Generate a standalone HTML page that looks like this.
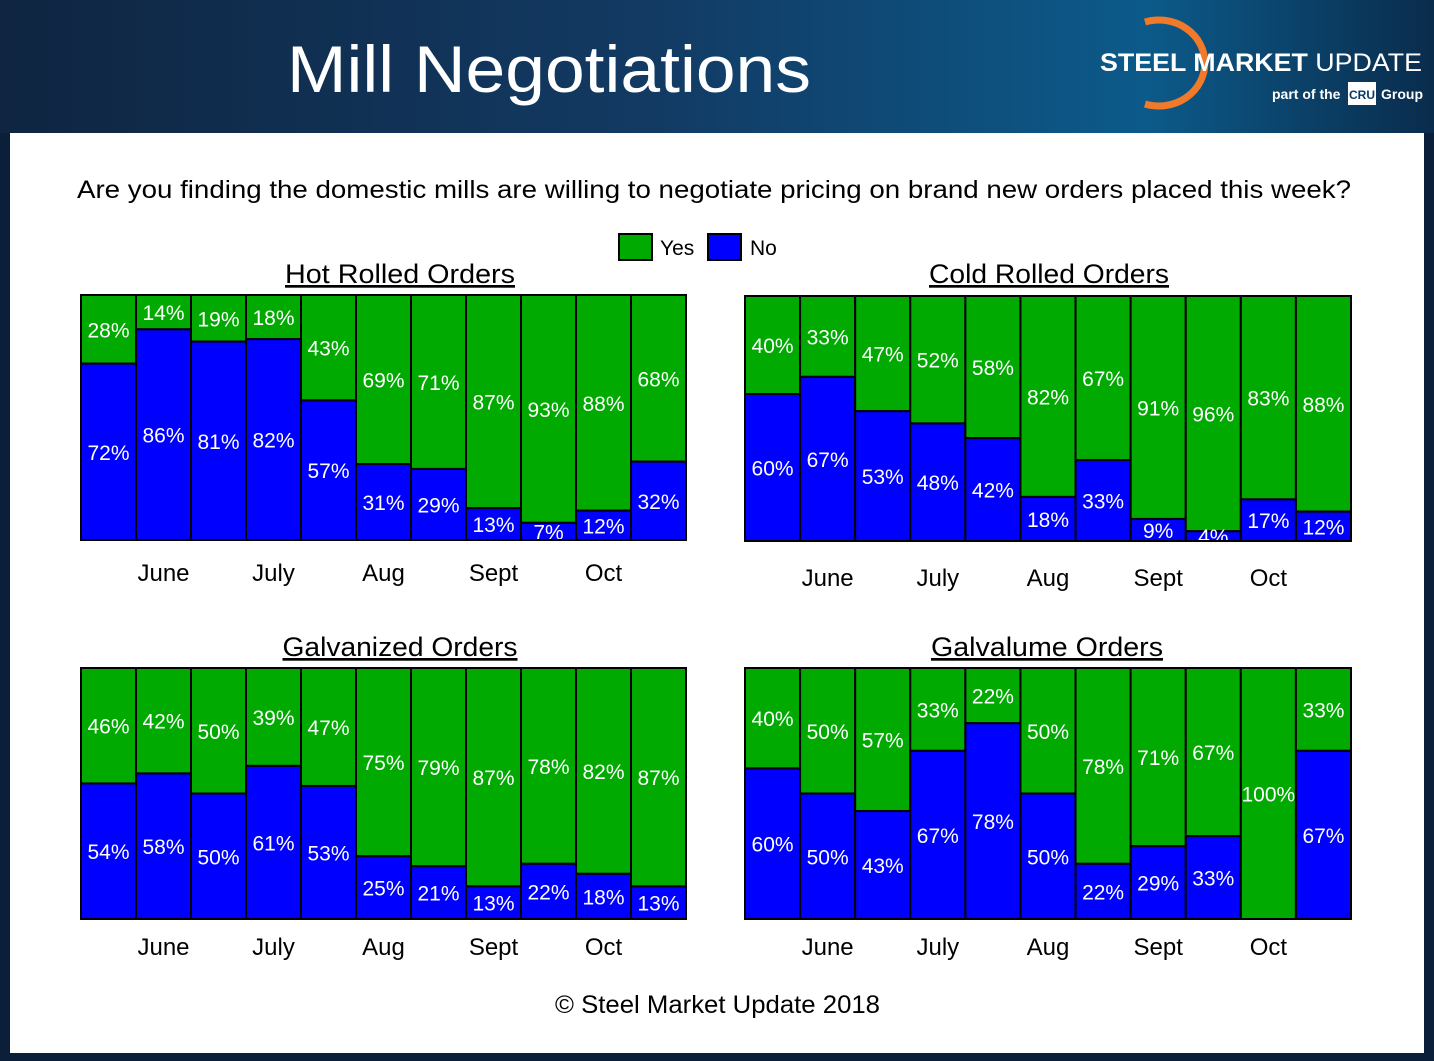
<!DOCTYPE html>
<html><head><meta charset="utf-8"><style>
body{margin:0;width:1434px;height:1061px;overflow:hidden;background:#0b1f3a;font-family:"Liberation Sans",sans-serif}
#hdr{position:absolute;left:0;top:0;width:1434px;height:133px;background:linear-gradient(90deg,#0f2541 0%,#123a63 45%,#0c5a8a 80%,#0a2c4c 100%)}
#panel{position:absolute;left:10px;top:133px;width:1414px;height:920px;background:#fff}
svg{position:absolute;left:0;top:0}
</style></head><body>
<div id="hdr"></div>
<div id="panel"></div>
<svg id="s" width="1434" height="1061">
<text x="287" y="92" font-size="66" fill="#fff" textLength="524" lengthAdjust="spacingAndGlyphs">Mill Negotiations</text>
<g>
<path d="M1145,22 A46,43 0 1,1 1145,104" fill="none" stroke="#f07a2a" stroke-width="7"/>
<text x="1100" y="71" font-size="25" font-weight="bold" fill="#fff" textLength="322" lengthAdjust="spacingAndGlyphs">STEEL MARKET <tspan font-weight="normal">UPDATE</tspan></text>
<text x="1272" y="99" font-size="14" font-weight="bold" fill="#fff">part of the</text>
<rect x="1348" y="82" width="28" height="23" fill="#fff"/>
<text x="1362" y="99" font-size="12" font-weight="bold" fill="#0c3a63" text-anchor="middle">CRU</text>
<text x="1381" y="99" font-size="14" font-weight="bold" fill="#fff">Group</text>
</g>
<text x="77" y="198" font-size="25" fill="#000" textLength="1274" lengthAdjust="spacingAndGlyphs">Are you finding the domestic mills are willing to negotiate pricing on brand new orders placed this week?</text>
<g>
<rect x="619" y="234" width="33" height="26" fill="#00aa00" stroke="#000" stroke-width="2"/>
<text x="660" y="255" font-size="21">Yes</text>
<rect x="708" y="234" width="33" height="26" fill="#0000ff" stroke="#000" stroke-width="2"/>
<text x="750" y="255" font-size="21">No</text>
</g>
<text x="555" y="1013" font-size="25" textLength="325" lengthAdjust="spacingAndGlyphs">© Steel Market Update 2018</text>
</svg>
<script>
const months = ["June","July","Aug","Sept","Oct"];
const monthIdx = [1.5,3.5,5.5,7.5,9.5];
const hrYes = [28,14,19,18,43,69,71,87,93,88,68];
const hrNo  = [72,86,81,82,57,31,29,13,7,12,32];
const crYes = [40,33,47,52,58,82,67,91,96,83,88];
const crNo  = [60,67,53,48,42,18,33,9,4,17,12];
const gzYes = [46,42,50,39,47,75,79,87,78,82,87];
const gzNo  = [54,58,50,61,53,25,21,13,22,18,13];
const glYes = [40,50,57,33,22,50,78,71,67,100,33];
const glNo  = [60,50,43,67,78,50,22,29,33,0,67];
const NS="http://www.w3.org/2000/svg";
const svg=document.getElementById('s');
function mk(t,a,p){const e=document.createElementNS(NS,t);for(const k in a)e.setAttribute(k,a[k]);(p||svg).appendChild(e);return e;}
function chart(name,title,x0,y0,w,h,yes,no,titleY,monthY,tcx,tw){
  const g=mk('g',{});
  
  
  const n=yes.length,bw=w/n;
  const tt=mk('text',{x:tcx-tw/2,y:titleY,'font-size':27,'text-decoration':'underline',textLength:tw,lengthAdjust:'spacingAndGlyphs'},g);
  tt.textContent=title;
  
  
  const sy=v=>v/100*h;
  for(let i=0;i<n;i++){
    const x=x0+i*bw,tot=yes[i]+no[i];
    const nh=sy(no[i]*100/tot),yh=h-nh;
    const ry=mk('rect',{x:x,y:y0,width:bw,height:yh,fill:'#00aa00',stroke:'#000','stroke-width':2},g);
    
    
    if(nh>0){const rn=mk('rect',{x:x,y:y0+yh,width:bw,height:nh,fill:'#0000ff',stroke:'#000','stroke-width':2},g);
    
    }
    const ty=mk('text',{x:x+bw/2,y:y0+yh/2+8,'font-size':21,fill:'#fff','text-anchor':'middle'},g);
    ty.textContent=yes[i]+'%';
    
    
    if(no[i]>0){const tn=mk('text',{x:x+bw/2,y:y0+yh+nh/2+8,'font-size':21,fill:'#fff','text-anchor':'middle'},g);
    tn.textContent=no[i]+'%';
    
    }
  }
  mk('rect',{x:x0,y:y0,width:w,height:h,fill:'none',stroke:'#000','stroke-width':2},g);
  months.forEach((m,k)=>{
    const t=mk('text',{x:x0+monthIdx[k]*bw,y:monthY,'font-size':24,'text-anchor':'middle'},g);
    t.textContent=m;
    
    
  });
}
chart('hot-rolled-chart','Hot Rolled Orders',81,295,605,245,hrYes,hrNo,283,581,400,230);
chart('cold-rolled-chart','Cold Rolled Orders',745,296,606,245,crYes,crNo,283,586,1049,240);
chart('galvanized-chart','Galvanized Orders',81,668,605,251,gzYes,gzNo,656,955,400,235);
chart('galvalume-chart','Galvalume Orders',745,668,606,251,glYes,glNo,656,955,1047,232);
</script>
</body></html>
